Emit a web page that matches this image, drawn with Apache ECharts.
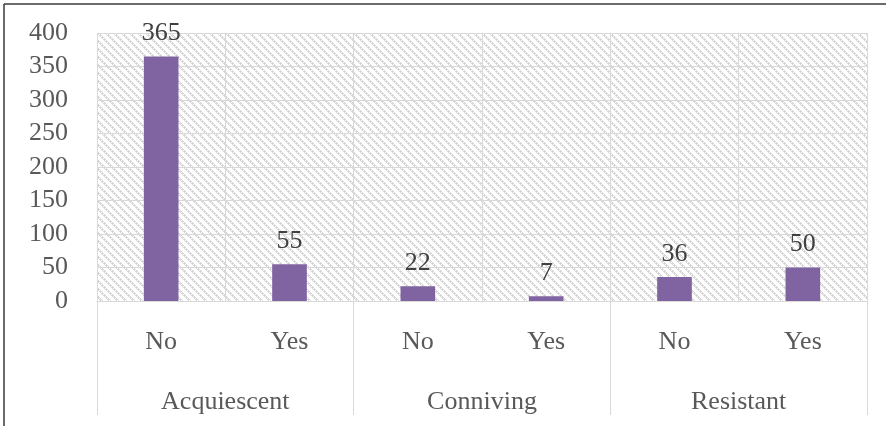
<!DOCTYPE html>
<html>
<head>
<meta charset="utf-8">
<script src="https://cdn.jsdelivr.net/npm/echarts@6/dist/echarts.min.js"></script>
<style>
html,body{margin:0;padding:0;background:#fff;}
#chart{width:886px;height:426px;}
</style>
</head>
<body>
<div id="chart"></div>
<script>
const subCategories = ['No', 'Yes', 'No', 'Yes', 'No', 'Yes'];
const groupCategories = ['Acquiescent', 'Conniving', 'Resistant'];
const counts = [365, 55, 22, 7, 36, 50];
const yTicks = { min: 0, max: 400, interval: 50 };

function makePattern() {
  const c = document.createElement('canvas');
  c.width = 8; c.height = 8;
  const ctx = c.getContext('2d');
  ctx.fillStyle = '#ffffff';
  ctx.fillRect(0, 0, 8, 8);
  ctx.fillStyle = '#d6d6d6';
  for (let y = 0; y < 8; y++) {
    for (let k = 0; k < 3; k++) {
      if (k === 1 && y % 2 === 0) continue;
      const x = (y + k) % 8;
      ctx.fillRect(x, y, 1, 1);
    }
  }
  return c;
}

const font = '"Liberation Serif", "Times New Roman", serif';
const chart = echarts.init(document.getElementById('chart'));
chart.setOption({
  animation: false,
  backgroundColor: '#ffffff',
  grid: {
    left: 97, right: 19, top: 33, bottom: 125,
    show: true,
    backgroundColor: { image: makePattern(), repeat: 'repeat' },
    borderWidth: 0
  },
  xAxis: [
    {
      type: 'category',
      data: subCategories,
      position: 'bottom',
      axisLine: { show: true, lineStyle: { color: '#d9d9d9', width: 1 } },
      axisTick: { show: false },
      splitLine: { show: true, lineStyle: { color: '#d9d9d9', width: 1 } },
      axisLabel: { color: '#595959', fontFamily: font, fontSize: 26, margin: 28 }
    },
    {
      type: 'category',
      data: groupCategories,
      position: 'bottom',
      axisLine: { show: false },
      axisTick: { show: true, length: 114, lineStyle: { color: '#d9d9d9', width: 1 } },
      splitLine: { show: false },
      axisLabel: { color: '#595959', fontFamily: font, fontSize: 26, margin: 88 }
    }
  ],
  yAxis: {
    type: 'value',
    min: yTicks.min, max: yTicks.max, interval: yTicks.interval,
    axisLine: { show: false },
    axisTick: { show: false },
    splitLine: { show: true, lineStyle: { color: '#d9d9d9', width: 1 } },
    axisLabel: { color: '#595959', fontFamily: font, fontSize: 26, margin: 29, padding: [5, 0, 0, 0] }
  },
  series: [{
    type: 'bar',
    xAxisIndex: 0,
    data: counts,
    barWidth: '27%',
    itemStyle: { color: '#8064a2' },
    label: {
      show: true, position: 'top', distance: 10,
      color: '#404040', fontFamily: font, fontSize: 26
    }
  }],
  graphic: [
    { type: 'line', shape: { x1: 4, y1: 4, x2: 886, y2: 4 }, style: { stroke: '#3a3a3a', lineWidth: 1.5 } },
    { type: 'line', shape: { x1: 4, y1: 4, x2: 4, y2: 426 }, style: { stroke: '#3a3a3a', lineWidth: 1.5 } }
  ]
});
</script>
</body>
</html>
